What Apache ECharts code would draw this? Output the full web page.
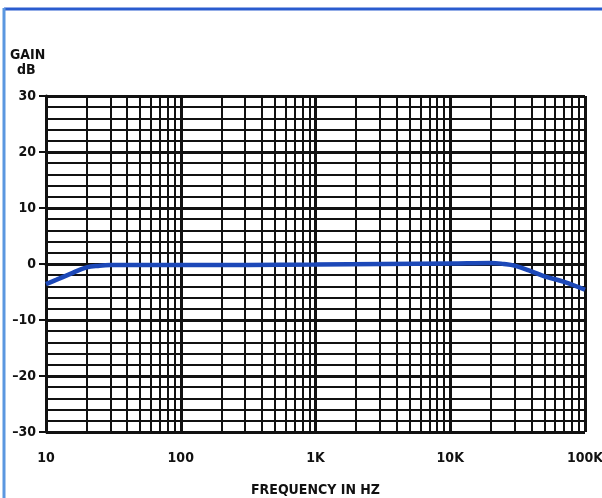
<!DOCTYPE html>
<html>
<head>
<meta charset="utf-8">
<script src="https://cdn.jsdelivr.net/npm/echarts@6/dist/echarts.min.js"></script>
<style>
html,body{margin:0;padding:0;background:#fff;}
#c{width:602px;height:498px;}
</style>
</head>
<body>
<div id="c"></div>
<script>
var freqHz = [10, 12, 15, 20, 25, 30, 50, 100, 1000, 10000, 20000, 25000, 30000, 40000, 50000, 70000, 100000];
var gainDb = [-3.6, -2.8, -1.8, -0.6, -0.3, -0.2, -0.2, -0.2, -0.1, 0.1, 0.2, 0.0, -0.3, -1.3, -2.2, -3.2, -4.6];
var xTickLabels = {10: '10', 100: '100', 1000: '1K', 10000: '10K', 100000: '100K'};
var yTicks = [-30, -20, -10, 0, 10, 20, 30];
var decades = [10, 100, 1000, 10000];
var multiples = [2, 3, 4, 5, 6, 7, 8, 9];

var minorFreqs = [];
decades.forEach(function (d) { multiples.forEach(function (m) { minorFreqs.push(d * m); }); });

var FONT = '"Liberation Sans Narrow", "DejaVu Sans Condensed", "Liberation Sans", sans-serif';

var chart = echarts.init(document.getElementById('c'), null, {renderer: 'canvas'});
chart.setOption({
  animation: false,
  backgroundColor: '#ffffff',
  grid: {left: 46, right: 17, top: 96, bottom: 66, containLabel: false, outerBoundsMode: 'none'},
  xAxis: {
    type: 'log', logBase: 10, min: 10, max: 100000,
    name: 'FREQUENCY IN HZ', nameLocation: 'middle', nameGap: 51,
    nameTextStyle: {fontFamily: FONT, fontWeight: 'bold', fontSize: 14, color: '#111'},
    axisLine: {show: true, lineStyle: {color: '#111', width: 3}},
    axisTick: {show: true, inside: false, length: 10, lineStyle: {color: '#111', width: 2}},
    axisLabel: {margin: 19, fontFamily: FONT, fontWeight: 'bold', fontSize: 14, color: '#111',
      formatter: function (v) { return xTickLabels[Math.round(v)] || ''; }},
    splitLine: {show: true, lineStyle: {color: '#111', width: 3}},
    minorTick: {show: false}
  },
  yAxis: {
    type: 'value', min: -30, max: 30, interval: 10,
    axisLine: {show: true, lineStyle: {color: '#111', width: 3}},
    axisTick: {show: true, inside: false, length: 7, lineStyle: {color: '#111', width: 2}},
    axisLabel: {margin: 10, fontFamily: FONT, fontWeight: 'bold', fontSize: 14, color: '#111',
      formatter: function (v) { return v < 0 ? '\u2013' + Math.abs(v) : String(v); }},
    splitLine: {show: true, lineStyle: {color: '#111', width: 3}},
    minorTick: {show: true, splitNumber: 5, length: 0},
    minorSplitLine: {show: true, lineStyle: {color: '#111', width: 2}}
  },
  series: [{
    type: 'line',
    data: freqHz.map(function (f, i) { return [f, gainDb[i]]; }),
    smooth: 0.4,
    showSymbol: false,
    lineStyle: {color: '#1c48b8', width: 4.5},
    z: 5,
    markLine: {
      silent: true,
      symbol: ['none', 'none'],
      label: {show: false},
      lineStyle: {color: '#111', width: 2, type: 'solid'},
      data: minorFreqs.map(function (f) { return {xAxis: f}; }),
      z: 1
    }
  }],
  graphic: [
    {type: 'line', shape: {x1: 4, y1: 9, x2: 602, y2: 9}, style: {stroke: '#2a5ccf', lineWidth: 3}},
    {type: 'line', shape: {x1: 4, y1: 8, x2: 4, y2: 498}, style: {stroke: '#5b97e0', lineWidth: 3}},
    {type: 'text', left: 10, top: 48, style: {text: 'GAIN', fontFamily: FONT, fontWeight: 'bold', fontSize: 14, fill: '#111'}},
    {type: 'text', left: 17, top: 63, style: {text: 'dB', fontFamily: FONT, fontWeight: 'bold', fontSize: 14, fill: '#111'}}
  ]
});
</script>
</body>
</html>
